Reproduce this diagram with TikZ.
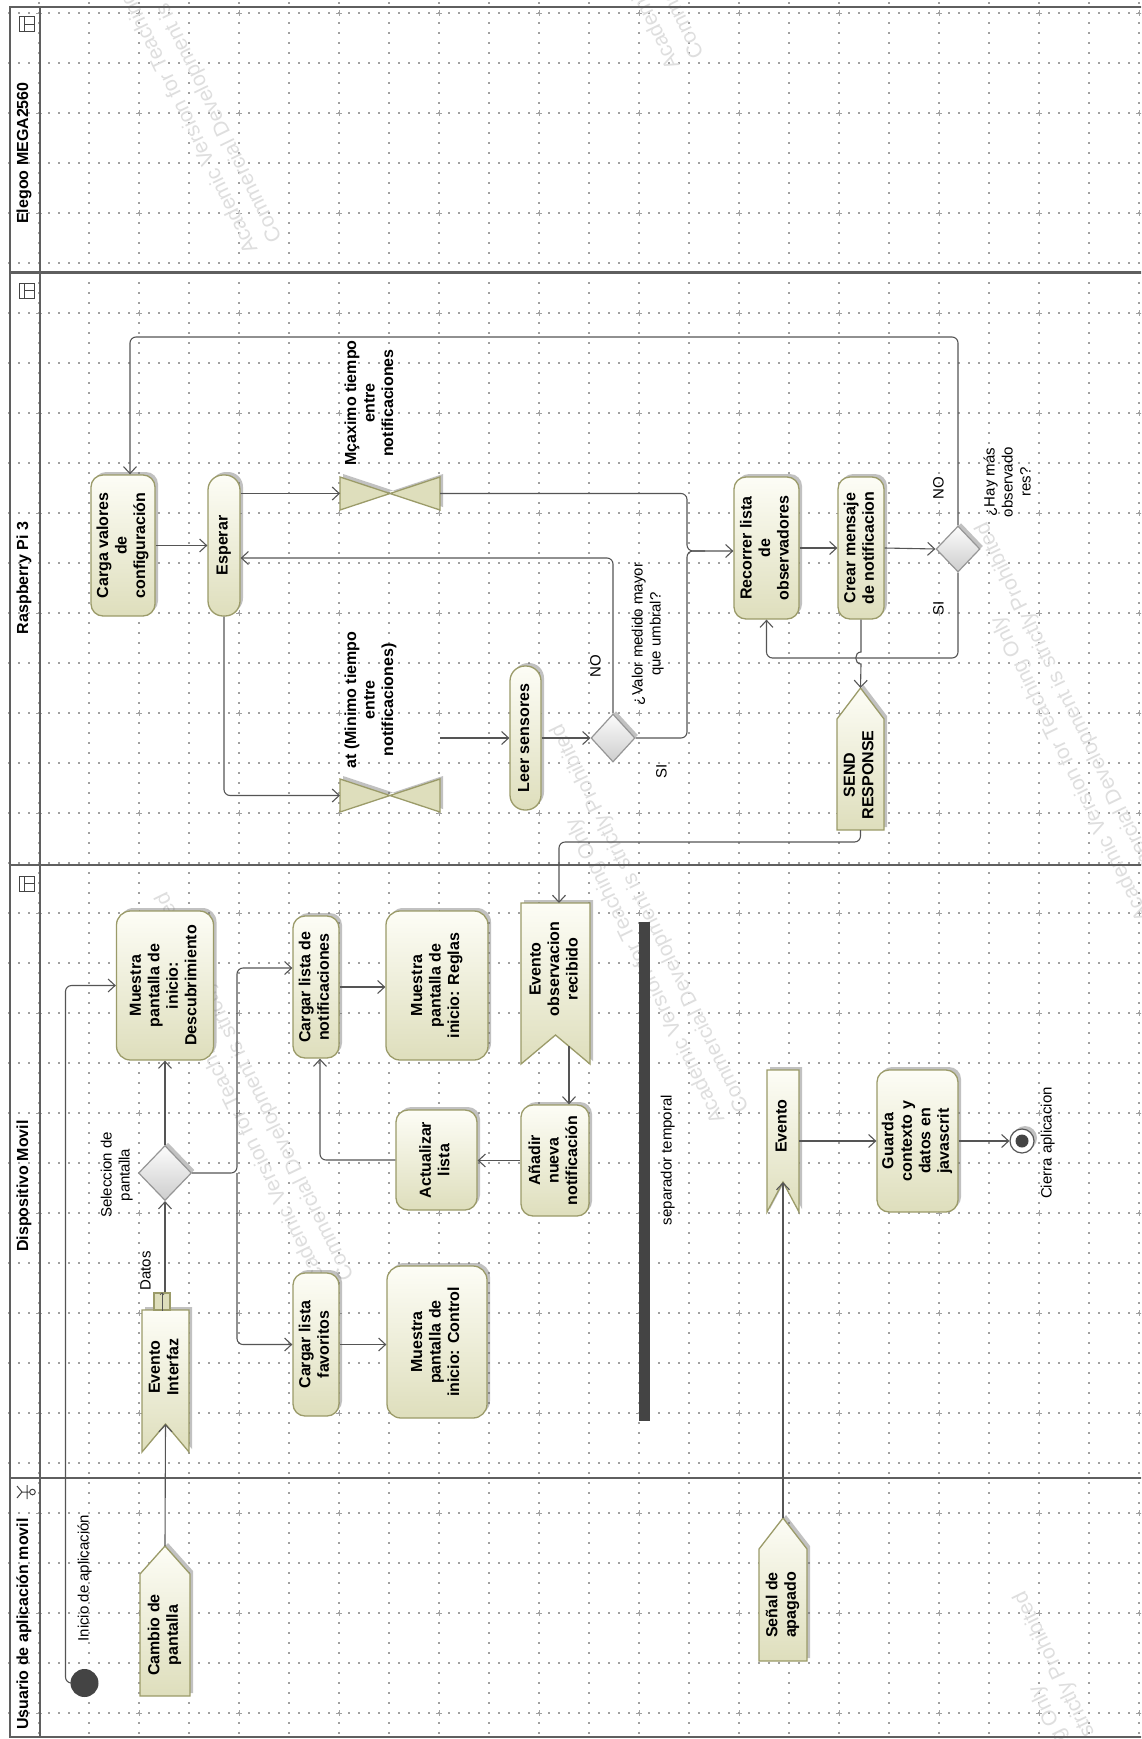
\documentclass[tikz,border=0pt]{standalone}
\usepackage{fontspec}
\setmainfont{Liberation Sans}
\usetikzlibrary{arrows.meta,shapes.geometric,shadows,calc}
\definecolor{bordc}{RGB}{155,155,105}
\definecolor{topc}{RGB}{253,253,246}
\definecolor{botc}{RGB}{222,222,188}
\definecolor{linec}{RGB}{85,85,85}
\definecolor{lanec}{RGB}{95,95,95}
\definecolor{dotc}{RGB}{160,160,160}
\definecolor{wmc}{RGB}{222,222,222}
\definecolor{darkc}{RGB}{68,68,68}
\definecolor{dtop}{RGB}{252,252,252}
\definecolor{dbot}{RGB}{205,205,205}
\definecolor{dbord}{RGB}{150,150,150}
\newcommand{\rtb}[1]{\rotatebox{90}{\fontsize{16}{18.5}\selectfont\bfseries\begin{tabular}{@{}c@{}}#1\end{tabular}}}
\newcommand{\rtn}[1]{\rotatebox{90}{\fontsize{15}{18}\selectfont\begin{tabular}{@{}c@{}}#1\end{tabular}}}
\newcommand{\lanename}[1]{\rotatebox{90}{\fontsize{16}{19}\selectfont\bfseries #1}}
\tikzset{
  shadowed/.style={drop shadow={shadow xshift=3pt, shadow yshift=3pt, opacity=0.4, fill=black!60}},
  act/.style={draw=bordc, line width=1.3pt, top color=topc, bottom color=botc, rounded corners=12pt, inner sep=0pt, shadowed},
  shapefill/.style={draw=bordc, line width=1.3pt, top color=topc, bottom color=botc, shadowed, line join=miter},
  hgfill/.style={draw=bordc, line width=1.3pt, fill=botc, shadowed},
  ph/.style={inner sep=0pt, outer sep=0pt},
  txt/.style={inner sep=0pt},
  dec/.style={diamond, draw=dbord, line width=1.2pt, top color=dtop, bottom color=dbot, inner sep=0pt, shadowed},
  conn/.style={draw=linec, line width=1.1pt, rounded corners=6pt, -{Straight Barb[length=7pt,width=13pt]}},
  plain/.style={draw=linec, line width=1.1pt, rounded corners=6pt},
  lane/.style={draw=lanec, line width=2.6pt},
  icon/.style={draw=darkc, line width=1pt},
  gridv/.style={draw=dotc, line width=1.1pt, dash pattern=on 1.1pt off 8.9pt, dash phase=7.55pt},
  gridh/.style={draw=dotc, line width=1.1pt, dash pattern=on 1.1pt off 8.9pt, dash phase=1.55pt},
  wm/.style={text=wmc, font=\fontsize{21}{24}\selectfont, inner sep=0pt, rotate=116, anchor=base west},
}
\begin{document}
\begin{tikzpicture}[x=1pt,y=-1pt]
\useasboundingbox (0,0) rectangle (1141,1739);
\clip (0,0) rectangle (1141,1739);
\fill[white] (0,0) rectangle (1141,1739);
% grid
\foreach \gx in {39,89,...,1139} {\draw[gridv] (\gx,0) -- (\gx,1739);}
\foreach \gy in {13,63,...,1713} {\draw[gridh] (0,\gy) -- (1141,\gy);}
\foreach \gx in {39,139,...,1139} {\foreach \gy in {13,113,...,1713} {\draw[dotc, line width=0.8pt] (\gx-3,\gy) -- (\gx+3,\gy) (\gx,\gy-3) -- (\gx,\gy+3);}}
% watermark
\foreach \px/\py/\k in {258/250/a, 680/66/b, 330/1288/c, 725/1120/d, 1150/918/e, 1188/1987/f} {
  \node[wm] (wm1\k) at (\px,\py) {Academic Version for Teaching Only};
  \node[wm] (wm2\k) at (\px+24.3,\py-11.8) {Commercial Development is strictly Prohibited};
}
% lanes
\draw[lane] (1150,7) -- (10,7) -- (10,1737) -- (1150,1737);
\draw[lane] (40,7) -- (40,1737);
\draw[lane] (10,272.5) -- (1150,272.5);
\draw[lane] (10,865) -- (1150,865);
\draw[lane] (10,1478) -- (1150,1478);
\node[txt] (lnE) at (24,153) {\lanename{Elegoo MEGA2560}};
\node[txt] (lnR) at (24,578) {\lanename{Raspberry Pi 3}};
\node[txt] (lnD) at (24,1186) {\lanename{Dispositivo Movil}};
\node[txt] (lnU) at (24,1624) {\lanename{Usuario de aplicación movil}};
\foreach \iy in {17,283,876} {
  \draw[icon] (19,\iy) rectangle (34,\iy+15);
  \draw[icon] (24,\iy) -- (24,\iy+15) (24,\iy+7.5) -- (34,\iy+7.5);
}
\draw[icon] (32.5,1492) circle (2.8);
\draw[icon] (29.7,1492) -- (22,1492) (27,1485) -- (27,1499) (22,1492) -- (17,1486) (22,1492) -- (17,1498);

% ---------- Raspberry Pi 3 ----------
\node[act, minimum width=64pt, minimum height=141pt] (carga) at (123,545.5) {\rtb{Carga valores\\de\\configuración}};
\node[act, rounded corners=15pt, minimum width=32pt, minimum height=141pt] (esperar) at (224,545.5) {\rtb{Esperar}};
\node[ph, minimum width=100pt, minimum height=33pt] (maxhg) at (390,493.5) {};
\draw[hgfill] (maxhg.north west) -- (maxhg.south east) -- (maxhg.north east) -- (maxhg.south west) -- cycle;
\node[txt] (maxlbl) at (371,403) {\rtb{Mçaximo tiempo\\entre\\notificaciones}};
\node[ph, minimum width=100pt, minimum height=33pt] (minhg) at (390,795.5) {};
\draw[hgfill] (minhg.north west) -- (minhg.south east) -- (minhg.north east) -- (minhg.south west) -- cycle;
\node[txt] (minlbl) at (371,700) {\rtb{at (Minimo tiempo\\entre\\notificaciones)}};
\coordinate (dang) at (440,738);
\node[act, rounded corners=15pt, minimum width=31pt, minimum height=144pt] (leer) at (525.5,738) {\rtb{Leer sensores}};
\node[dec, minimum width=44pt, minimum height=48pt] (valor) at (613,738) {};
\node[txt] (valorlbl) at (648,634) {\rtn{¿Valor medido mayor\\que umbral?}};
\node[txt] (vno) at (597,666) {\rtn{NO}};
\node[txt] (vsi) at (663,771) {\rtn{SI}};
\node[act, minimum width=65pt, minimum height=142pt] (recorrer) at (766.5,548) {\rtb{Recorrer lista\\de\\observadores}};
\node[act, minimum width=46pt, minimum height=142pt] (crear) at (861,548) {\rtb{Crear mensaje\\de notificacion}};
\node[dec, minimum width=44pt, minimum height=46pt] (hay) at (958,549) {};
\node[txt] (haylbl) at (1009,482) {\rtn{¿Hay más\\observado\\res?}};
\node[txt] (hno) at (940,488) {\rtn{NO}};
\node[txt] (hsi) at (940,608) {\rtn{SI}};
\node[ph, minimum width=47pt, minimum height=142pt] (send) at (860.5,759) {};
\draw[shapefill] (send.north) -- ([yshift=-31pt]send.north east) -- (send.south east) -- (send.south west) -- ([yshift=-31pt]send.north west) -- cycle;
\node[txt] (sendt) at (860.5,775) {\rtb{SEND\\RESPONSE}};

\draw[conn] (hay.north) -- (958,337) -- (130,337) -- (130,337 |- carga.north);
\draw[conn] (carga.east) -- (esperar.west);
\draw[conn] (esperar.east |- maxhg.west) -- (maxhg.west);
\draw[conn] (maxhg.east) -- (687,493.5) -- (687,551) -- (recorrer.west |- 0,551);
\draw[plain] (valor.east) -- (687,738) -- (687,551) -- (705,551);
\draw[conn] (valor.north) -- (613,558) -- (esperar.east |- 0,558);
\draw[conn] (esperar.south) -- (224,795.5) -- (minhg.west);
\draw[conn] (dang) -- (leer.west);
\draw[conn] (leer.east) -- (valor.west);
\draw[conn] (recorrer.east) -- (crear.west);
\draw[conn] (crear.east) -- (hay.west);
\draw[conn] (hay.south) -- (958,658) -- (766.5,658) -- (recorrer.south);
\draw[conn, sharp corners] (crear.south) -- (861,652) .. controls (854,652) and (854,664) .. (861,664) -- (send.north);

% ---------- Dispositivo Movil ----------
\node[act, rounded corners=14pt, minimum width=97pt, minimum height=149pt] (desc) at (165,985.5) {\rtb{Muestra\\pantalla de\\inicio:\\Descubrimiento}};
\node[act, minimum width=46pt, minimum height=142pt] (notif) at (316,987) {\rtb{Cargar lista de\\notificaciones}};
\node[act, rounded corners=14pt, minimum width=102pt, minimum height=149pt] (reglas) at (437,985.5) {\rtb{Muestra\\pantalla de\\inicio: Reglas}};
\node[ph, minimum width=69pt, minimum height=161pt] (evobs) at (555.5,983.5) {};
\draw[shapefill] (evobs.north west) -- (evobs.north east) -- (evobs.south east) -- ([yshift=29pt]evobs.south) -- (evobs.south west) -- cycle;
\node[txt] (evobst) at (555.5,969) {\rtb{Evento\\observacion\\recibido}};
\coordinate (evobsout) at (569,1046);
\node[dec, minimum width=53pt, minimum height=55pt] (sel) at (165,1173) {};
\node[txt] (sellbl) at (117,1175) {\rtn{Seleccion de\\pantalla}};
\coordinate (selsplit) at (237,1173);
\node[act, minimum width=68pt, minimum height=111pt] (anadir) at (555,1160.5) {\rtb{Añadir\\nueva\\notificación}};
\node[act, minimum width=81pt, minimum height=100pt] (actualizar) at (436.5,1160) {\rtb{Actualizar\\lista}};
\node[ph, minimum width=47pt, minimum height=142pt] (evint) at (165.5,1381) {};
\draw[shapefill] (evint.north west) -- (evint.north east) -- (evint.south east) -- ([yshift=28pt]evint.south) -- (evint.south west) -- cycle;
\coordinate (evintapex) at ([yshift=28pt]evint.south);
\node[txt] (evintt) at (165.5,1367) {\rtb{Evento\\Interfaz}};
\node[draw=bordc, line width=1.1pt, fill=botc, minimum width=16pt, minimum height=17pt, inner sep=0pt] (pin) at (162,1301.5) {};
\draw[draw=linec, line width=0.6pt, -{Straight Barb[length=2pt,width=4pt]}] (pin.south) -- (pin.north);
\node[txt] (datos) at (147,1271) {\rtn{Datos}};
\node[act, minimum width=46pt, minimum height=143pt] (fav) at (316,1344.5) {\rtb{Cargar lista\\favoritos}};
\node[act, rounded corners=14pt, minimum width=100pt, minimum height=152pt] (control) at (437,1342) {\rtb{Muestra\\pantalla de\\inicio: Control}};
\node[fill=darkc, minimum width=11pt, minimum height=499pt, inner sep=0pt] (bar) at (644.5,1171.5) {};
\node[txt] (barlbl) at (668,1160) {\rtn{separador temporal}};
\node[ph, minimum width=32pt, minimum height=142pt] (evento) at (783,1141) {};
\draw[shapefill] (evento.north west) -- (evento.north east) -- (evento.south east) -- ([yshift=30pt]evento.south) -- (evento.south west) -- cycle;
\coordinate (eventoapex) at ([yshift=30pt]evento.south);
\node[txt] (eventot) at (783,1126) {\rtb{Evento}};
\node[act, minimum width=81pt, minimum height=142pt] (guarda) at (917.5,1141) {\rtb{Guarda\\contexto y\\datos en\\javascrit}};
\node[circle, draw=linec, line width=1.2pt, fill=white, minimum size=24pt, inner sep=0pt, shadowed] (final) at (1022,1141) {};
\node[circle, fill=darkc, minimum size=13pt, inner sep=0pt] (finalin) at (final.center) {};
\node[txt] (cierra) at (1048,1143) {\rtn{Cierra aplicacion}};

\draw[conn] (send.south) -- (860.5,842) -- (559,842) -- (559,842 |- evobs.north);
\draw[conn] (sel.north) -- (desc.south);
\draw[conn] (pin.north -| sel.south) -- (sel.south);
\draw[conn] (sel.east) -- (selsplit) -- (selsplit |- 0,968) -- (notif.west |- 0,968);
\draw[conn] (selsplit) -- (selsplit |- fav.west) -- (fav.west);
\draw[conn] (notif.east) -- (reglas.west |- notif.east);
\draw[conn] (fav.east) -- (control.west |- fav.east);
\draw[conn] (evobsout) -- (evobsout |- anadir.north);
\draw[conn] (anadir.west) -- (actualizar.east |- anadir.west);
\draw[conn] (actualizar.west) -- (320,1160) -- (320,1160 |- notif.south);
\draw[conn] (evento.east) -- (guarda.west);
\draw[conn] (guarda.east) -- (final.west);

% ---------- Usuario ----------
\node[circle, fill=darkc, minimum size=28pt, inner sep=0pt] (init) at (84.5,1683) {};
\node[txt] (initlbl) at (85,1578) {\rtn{Inicio de aplicación}};
\node[ph, minimum width=50pt, minimum height=150pt] (cambio) at (165,1621) {};
\draw[shapefill] (cambio.north) -- ([yshift=-28pt]cambio.north east) -- (cambio.south east) -- (cambio.south west) -- ([yshift=-28pt]cambio.north west) -- cycle;
\node[txt] (cambiot) at (165,1635) {\rtb{Cambio de\\pantalla}};
\node[ph, minimum width=48pt, minimum height=143pt] (senal) at (783,1589.5) {};
\draw[shapefill] (senal.north) -- ([yshift=-31pt]senal.north east) -- (senal.south east) -- (senal.south west) -- ([yshift=-31pt]senal.north west) -- cycle;
\node[txt] (senalt) at (783,1605) {\rtb{Señal de\\apagado}};

\draw[conn] (init.west) -- (65.5,1683) -- (65.5,985.5) -- (desc.west);
\draw[conn] (cambio.north) -- (evintapex);
\draw[conn] (senal.north) -- (eventoapex);
\end{tikzpicture}
\end{document}
